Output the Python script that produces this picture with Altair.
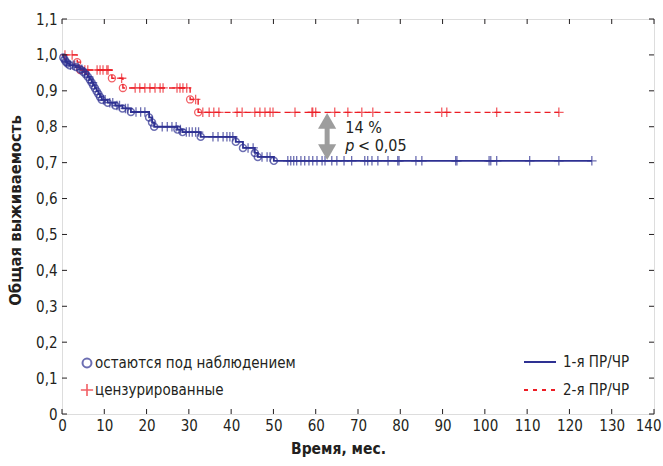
import altair as alt
import pandas as pd
import numpy as np

# ---------------- data ----------------
# Group 1 (1-я ПР/ЧР): event times and survival after each event
blue_event_t = [0.3, 0.6, 0.9, 1.3, 1.8, 3.3, 4.3, 5.0, 5.6, 6.1, 6.6, 7.0, 7.4, 7.8, 8.2,
                8.6, 9.0, 9.4, 10.8, 12.6, 14.3, 16.3, 20.6, 21.3, 21.8, 27.3, 28.5,
                32.8, 41.1, 42.8, 45.6, 46.3, 50.1]
blue_event_s = [0.993, 0.987, 0.981, 0.976, 0.971, 0.966, 0.960, 0.953, 0.946, 0.939, 0.931,
                0.923, 0.915, 0.907, 0.899, 0.891, 0.883, 0.875, 0.867, 0.859, 0.851, 0.841,
                0.826, 0.812, 0.800, 0.792, 0.785, 0.772, 0.758, 0.741, 0.727, 0.716, 0.705]
blue_cens_t = [1.0, 2.0, 2.6, 3.0, 3.8, 4.7, 5.3, 6.3, 7.2, 9.8, 10.2, 11.3, 12.0, 13.0, 13.6,
               15.0, 15.6, 17.5, 18.6, 19.6, 23.7, 24.9, 26.0, 27.0, 28.0, 29.4, 30.1, 30.8,
               31.6, 32.3, 35.7, 36.9, 38.1, 39.0, 39.7, 40.4, 44.0, 45.2, 47.3, 48.5, 49.2,
               53.4, 54.1, 54.8, 55.5, 56.5, 57.4, 58.4, 59.3, 60.3, 61.5, 62.2, 63.8, 65.0,
               66.7, 68.5, 71.6, 72.3, 73.3, 74.7, 77.1, 79.4, 79.7, 83.7, 85.1, 93.1, 93.4,
               101.0, 101.4, 102.8, 110.6, 117.5, 125.3]
blue_end_t = 125.3

# Group 2 (2-я ПР/ЧР)
red_event_t = [3.6, 4.3, 11.8, 14.4, 30.3, 32.2]
red_event_s = [0.980, 0.958, 0.935, 0.908, 0.876, 0.840]
red_cens_t = [0.7, 2.4, 5.4, 6.1, 8.3, 9.0, 9.7, 10.6, 10.9, 14.1, 17.3, 18.4, 19.6, 20.8,
              22.0, 23.2, 23.9, 27.2, 27.9, 28.6, 29.5, 31.6, 33.3, 34.8, 35.9, 37.1, 41.4,
              42.6, 45.6, 46.8, 48.0, 49.2, 49.9, 55.1, 59.1, 59.3, 60.0, 64.5, 67.6, 70.9,
              73.5, 89.8, 91.0, 102.8, 117.5]
red_end_t = 117.5

# annotation
arrow_t = 62.7
arrow_top = 0.840
arrow_bottom = 0.705
ann_t = 67.0
ann_texts = ["14 %", "p", "< 0,05"]
ann_s = [0.797, 0.745]

x_ticks = list(range(0, 141, 10))
y_ticks = [round(0.1 * i, 1) for i in range(12)]

BLUE = "#2e3192"
RED = "#ed1c24"
FONT = "DejaVu Sans Condensed, Liberation Sans Narrow, sans-serif"
W, H = 592, 395


def step_df(ev_t, ev_s, end_t, grp):
    t = [0.0] + ev_t + [end_t]
    s = [1.0] + ev_s + [ev_s[-1]]
    return pd.DataFrame({"t": t, "s": s, "g": grp})


def cens_df(ev_t, ev_s, cens_t, grp):
    ev_t_a = np.array(ev_t)
    ys = []
    for c in cens_t:
        idx = np.searchsorted(ev_t_a, c, side="right") - 1
        ys.append(1.0 if idx < 0 else ev_s[idx])
    return pd.DataFrame({"t": cens_t, "s": ys, "g": grp})


blue_line = step_df(blue_event_t, blue_event_s, blue_end_t, "1")
red_line = step_df(red_event_t, red_event_s, red_end_t, "2")
blue_ev = pd.DataFrame({"t": blue_event_t, "s": blue_event_s})
red_ev = pd.DataFrame({"t": red_event_t, "s": red_event_s})
blue_c = cens_df(blue_event_t, blue_event_s, blue_cens_t, "1")
red_c = cens_df(red_event_t, red_event_s, red_cens_t, "2")

xs = alt.Scale(domain=[0, 140], nice=False, zero=False)
ys = alt.Scale(domain=[0, 1.1], nice=False, zero=False)

X = alt.X("t:Q", scale=xs, axis=alt.Axis(
    values=x_ticks, ticks=False, grid=False, domain=False, labelFont=FONT, labelFontSize=15,
    labelColor="#231f20", labelPadding=4, labelOverlap=False, labelFlush=False,
    labelAlign=alt.condition("datum.value == 140", alt.value("right"), alt.value("center")),
    labelOffset=alt.condition("datum.value == 140", alt.value(7), alt.value(0)),
    title="Время, мес.", titleFont=FONT, titleFontSize=15.5, titleFontWeight="bold",
    titleColor="#231f20", titlePadding=8, titleX=276))
Y = alt.Y("s:Q", scale=ys, axis=alt.Axis(
    values=y_ticks, ticks=False, grid=False, domain=False, labelFont=FONT, labelFontSize=15,
    labelColor="#231f20", labelPadding=5, labelOverlap=False,
    labelExpr="datum.value == 0 ? '0' : replace(format(datum.value, '.1f'), '.', ',')",
    title="Общая выживаемость", titleFont=FONT, titleFontSize=16.5, titleFontWeight="bold",
    titleColor="#231f20", titlePadding=12, titleY=191))
Y2 = alt.Y2("s2:Q")

CROSS = "M-1,0L1,0M0,-1L0,1"

l_blue = alt.Chart(blue_line).mark_line(interpolate="step-after", color=BLUE,
                                        strokeWidth=1.8).encode(x=X, y=Y)
l_red = alt.Chart(red_line).mark_line(interpolate="step-after", color=RED, strokeWidth=1.4,
                                      strokeDash=[6, 4]).encode(x=X, y=Y)
c_blue = alt.Chart(blue_c).mark_point(shape=CROSS, size=90, color=BLUE,
                                      strokeWidth=1.3).encode(x=X, y=Y)
c_red = alt.Chart(red_c).mark_point(shape=CROSS, size=90, color=RED,
                                    strokeWidth=1.3).encode(x=X, y=Y)
e_blue = alt.Chart(blue_ev).mark_point(shape="circle", size=50, color=BLUE, filled=False,
                                       strokeWidth=1.4).encode(x=X, y=Y)
e_red = alt.Chart(red_ev).mark_point(shape="circle", size=50, color=RED, filled=False,
                                     strokeWidth=1.3).encode(x=X, y=Y)

# arrow
arr = pd.DataFrame({"t": [arrow_t], "top": [arrow_top], "bot": [arrow_bottom]})
shaft = alt.Chart(arr).mark_rule(color="#9d9d9d", strokeWidth=5).encode(
    x=X, y=Y, y2=Y2).transform_calculate(
    s="datum.top - 0.035", s2="datum.bot + 0.035")
head_up = alt.Chart(arr).mark_point(shape="triangle-up", size=330, color="#9d9d9d",
                                    filled=True, opacity=1).encode(
    x=X, y=Y).transform_calculate(s="datum.top - 0.024")
head_dn = alt.Chart(arr).mark_point(shape="triangle-down", size=330, color="#9d9d9d",
                                    filled=True, opacity=1).encode(
    x=X, y=Y).transform_calculate(s="datum.bot + 0.024")

ann_style = dict(align="left", baseline="middle", font=FONT, fontSize=16, color="#231f20")
ann1 = alt.Chart(pd.DataFrame({"t": [ann_t], "s": [ann_s[0]], "txt": [ann_texts[0]]})).mark_text(
    **ann_style).encode(x=X, y=Y, text="txt:N")
ann2 = alt.Chart(pd.DataFrame({"t": [ann_t], "s": [ann_s[1]], "txt": [ann_texts[1]]})).mark_text(
    fontStyle="italic", **ann_style).encode(x=X, y=Y, text="txt:N")
ann3 = alt.Chart(pd.DataFrame({"t": [ann_t + 3.0], "s": [ann_s[1]], "txt": [ann_texts[2]]})).mark_text(
    **ann_style).encode(x=X, y=Y, text="txt:N")

# inward ticks on all four sides
xt = pd.DataFrame({"t": x_ticks})
yt = pd.DataFrame({"s": y_ticks})
tk = dict(color="#231f20", strokeWidth=1)
t_bot = alt.Chart(xt).mark_rule(**tk).encode(x=X, y=alt.value(H), y2=alt.value(H - 5))
t_top = alt.Chart(xt).mark_rule(**tk).encode(x=X, y=alt.value(0), y2=alt.value(5))
t_left = alt.Chart(yt).mark_rule(**tk).encode(y=Y, x=alt.value(0), x2=alt.value(5))
t_right = alt.Chart(yt).mark_rule(**tk).encode(y=Y, x=alt.value(W), x2=alt.value(W - 5))

# legends
leg_txt = dict(align="left", baseline="middle", font=FONT, fontSize=15, color="#231f20")
lg1_sym = alt.Chart(pd.DataFrame({"a": [0]})).mark_point(
    shape="circle", size=80, color=BLUE, filled=False, strokeWidth=2).encode(
    x=alt.value(25), y=alt.value(344))
lg1_txt = alt.Chart(pd.DataFrame({"a": ["остаются под наблюдением"]})).mark_text(**leg_txt).encode(
    x=alt.value(33), y=alt.value(344), text="a:N")
lg2_sym = alt.Chart(pd.DataFrame({"a": [0]})).mark_point(
    shape=CROSS, size=150, color=RED, strokeWidth=1.6).encode(
    x=alt.value(25), y=alt.value(371))
lg2_txt = alt.Chart(pd.DataFrame({"a": ["цензурированные"]})).mark_text(**leg_txt).encode(
    x=alt.value(33), y=alt.value(371), text="a:N")
lg3_line = alt.Chart(pd.DataFrame({"a": [0]})).mark_rule(color=BLUE, strokeWidth=2).encode(
    x=alt.value(462), x2=alt.value(494), y=alt.value(343))
lg3_txt = alt.Chart(pd.DataFrame({"a": ["1-я ПР/ЧР"]})).mark_text(**leg_txt).encode(
    x=alt.value(501), y=alt.value(343), text="a:N")
lg4_line = alt.Chart(pd.DataFrame({"a": [0]})).mark_rule(color=RED, strokeWidth=2,
                                                          strokeDash=[4, 5]).encode(
    x=alt.value(462), x2=alt.value(494), y=alt.value(371))
lg4_txt = alt.Chart(pd.DataFrame({"a": ["2-я ПР/ЧР"]})).mark_text(**leg_txt).encode(
    x=alt.value(501), y=alt.value(371), text="a:N")

chart = alt.layer(
    l_red, l_blue, c_red, e_red, c_blue, e_blue,
    shaft, head_up, head_dn, ann1, ann2, ann3,
    t_bot, t_top, t_left, t_right,
    lg1_sym, lg1_txt, lg2_sym, lg2_txt, lg3_line, lg3_txt, lg4_line, lg4_txt,
).properties(
    width=W, height=H,
    autosize=alt.AutoSizeParams(type="none"),
    padding={"left": 62, "top": 19, "right": 9, "bottom": 52},
).configure_view(stroke="#231f20", strokeWidth=1.2).configure(background="white")

chart.save("out.html", embed_options={"renderer": "svg", "actions": False})
